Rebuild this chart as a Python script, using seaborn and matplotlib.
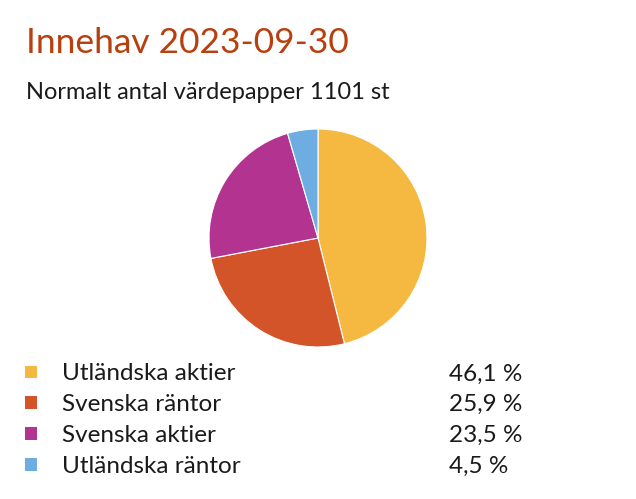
import matplotlib
matplotlib.use("Agg")
import matplotlib.pyplot as plt
import seaborn as sns
import pandas as pd

categories = ["Utländska aktier", "Svenska räntor", "Svenska aktier", "Utländska räntor"]
values = [46.1, 25.9, 23.5, 4.5]
value_labels = ["46,1 %", "25,9 %", "23,5 %", "4,5 %"]
colors = ["#F5B942", "#D4542A", "#B23490", "#6EADE1"]
title = "Innehav 2023-09-30"
subtitle = "Normalt antal värdepapper 1101 st"

sns.set_theme(style="white")
plt.rcParams["font.family"] = ["Lato", "DejaVu Sans"]

W, H = 636, 499
fig = plt.figure(figsize=(W / 100, H / 100), dpi=100)
fig.patch.set_facecolor("white")

# pie axes
cx, cy, r = 318, 238, 109
ax = fig.add_axes([(cx - r) / W, (H - cy - r) / H, 2 * r / W, 2 * r / H])
ax.pie(values, colors=colors, startangle=90, counterclock=False,
       wedgeprops=dict(edgecolor="white", linewidth=0.8))
ax.set_xlim(-1, 1)
ax.set_ylim(-1, 1)
ax.set_aspect("equal")
ax.axis("off")

# legend axes in pixel coordinates
lax = fig.add_axes([0, 0, 1, 1])
lax.set_xlim(0, W)
lax.set_ylim(H, 0)
lax.axis("off")

df = pd.DataFrame({"cat": categories, "val": values, "lab": value_labels})
df["row"] = range(len(df))
df["y"] = 372 + df["row"] * 30.8
df["x"] = 31
sns.scatterplot(data=df, x="x", y="y", hue="cat", palette=colors, marker="s",
                s=85, edgecolor="none", legend=False, ax=lax)
for _, rrow in df.iterrows():
    lax.text(62, rrow["y"], rrow["cat"], fontsize=17.5, color="#1a1a1a",
             va="center_baseline", ha="left")
    lax.text(449, rrow["y"], rrow["lab"], fontsize=17.5, color="#1a1a1a",
             va="center_baseline", ha="left")

fig.text(26 / W, 1 - 53 / H, title, fontsize=25.5, color="#B8400F",
         ha="left", va="baseline")
fig.text(26 / W, 1 - 99 / H, subtitle, fontsize=17, color="#1a1a1a",
         ha="left", va="baseline")

fig.savefig("out.png", dpi=100, facecolor="white")
